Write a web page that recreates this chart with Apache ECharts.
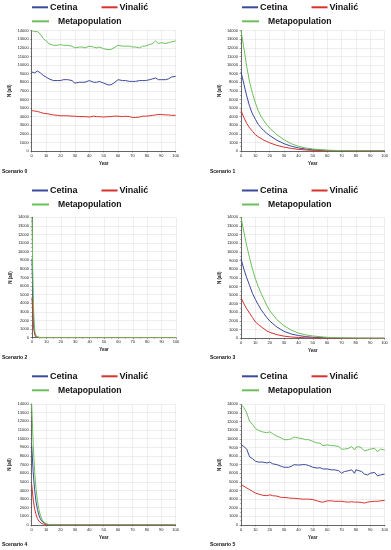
<!DOCTYPE html>
<html>
<head>
<meta charset="utf-8">
<script src="https://cdn.jsdelivr.net/npm/echarts@6/dist/echarts.min.js"></script>
<style>
html,body{margin:0;padding:0;background:#fff;}
#c{width:391px;height:550px;}
</style>
</head>
<body>
<div id="c"></div>
<script>
// ---- Data ----
var seriesNames = ['Cetina', 'Vinalić', 'Metapopulation'];
var scenarioLabels = ['Scenario 0', 'Scenario 1', 'Scenario 2', 'Scenario 3', 'Scenario 4', 'Scenario 5'];
var yearTicks = [0,10,20,30,40,50,60,70,80,90,100];
var nTicks = [0,1000,2000,3000,4000,5000,6000,7000,8000,9000,10000,11000,12000,13000,14000];

var yearsNoisy = [0,2,4,6,8,10,12,15,18,20,22,25,28,30,33,35,37,40,43,45,47,50,53,55,57,60,63,65,68,70,72,75,77,79,80,82,84,86,88,90,93,95,97,100];
var yearsDecay = [0,2,4,6,8,10,12,14,16,18,20,25,30,35,40,45,50,60,70,80,90,100];
var yearsFast2 = [0,0.5,1,1.5,2,3,4,6,10,100];
var yearsFast4 = [0,1,2,3,4,5,6,7,8,10,12,15,100];

// Scenario 0
var cetina0 = [9200,9100,9300,9100,8800,8600,8400,8200,8200,8200,8300,8300,8200,7900,8000,8000,8000,8200,8000,8000,8100,7900,7700,7700,7900,8300,8200,8200,8100,8100,8100,8200,8200,8200,8300,8300,8400,8500,8300,8300,8300,8400,8600,8700];
var vinalic0 = [4700,4650,4600,4500,4400,4350,4300,4200,4150,4100,4100,4100,4050,4050,4000,4000,4000,3950,4050,4000,4000,3950,4000,4000,4050,4050,4000,4050,4000,3900,3900,3950,4050,4050,4100,4100,4150,4200,4250,4250,4200,4200,4150,4150];
var meta0 = [14000,13900,13900,13600,13100,12800,12500,12300,12300,12400,12300,12300,12200,12000,12100,12100,12000,12200,12100,12000,12100,11900,11800,11800,12000,12300,12200,12200,12200,12100,12100,12000,12200,12200,12300,12400,12500,12800,12500,12600,12500,12600,12700,12800];

// Scenario 1
var cetina1 = [9200,7800,6400,5200,4300,3700,3100,2700,2350,2050,1800,1250,850,560,360,230,150,60,20,5,0,0];
var vinalic1 = [4700,3900,3200,2700,2300,1900,1650,1450,1250,1100,950,650,450,300,190,120,80,30,10,0,0,0];
var meta1 = [14000,12000,9800,8000,6700,5600,4700,4000,3500,3050,2650,1900,1300,850,550,350,230,100,40,15,5,0];

// Scenario 2
var cetina2 = [9200,5000,2300,1000,400,80,10,0,0,0];
var vinalic2 = [4700,3000,1600,700,300,60,10,0,0,0];
var meta2 = [13900,8000,3900,1700,700,140,20,0,0,0];

// Scenario 3
var cetina3 = [9200,8000,7000,6100,5200,4500,3900,3300,2850,2400,2000,1300,800,500,320,200,120,50,15,5,0,0];
var vinalic3 = [4700,4000,3400,2900,2400,1900,1600,1350,1100,850,700,420,250,150,100,60,35,15,5,0,0,0];
var meta3 = [14000,12300,10700,9300,8000,6900,6000,5200,4500,3800,3200,2150,1450,950,600,400,270,110,40,15,5,0];

// Scenario 4
var cetina4 = [9200,6200,4100,2700,1800,1150,720,450,270,100,30,0,0];
var vinalic4 = [4700,3000,1900,1200,750,450,280,170,100,40,10,0,0];
var meta4 = [14000,9500,6300,4200,2800,1800,1150,700,420,150,50,0,0];

// Scenario 5
var cetina5 = [9300,9100,8800,7900,7700,7400,7300,7300,7200,7300,7100,7000,6800,6700,6700,6800,7000,6950,7000,7000,6900,6700,6600,6650,6500,6500,6400,6400,6300,6000,6200,6300,6400,6000,6400,6300,6200,5900,5800,6000,6100,5700,5800,5900];
var vinalic5 = [4700,4500,4300,4100,3900,3700,3600,3450,3400,3500,3400,3350,3200,3200,3150,3100,3100,3050,3000,3000,3000,2950,2800,2700,2650,2800,2800,2750,2750,2750,2700,2650,2700,2650,2600,2650,2600,2550,2650,2700,2750,2750,2800,2850];
var meta5 = [14000,13600,13000,12000,11700,11200,11000,10800,10700,10800,10600,10300,10100,9900,9900,10000,10200,10100,10000,9900,9900,9700,9500,9500,9200,9300,9200,9200,9100,8800,8800,8900,9100,8700,9000,9100,8900,8600,8700,8800,8900,8500,8800,8700];

var scenarios = [
  {years: yearsNoisy, vals: [cetina0, vinalic0, meta0]},
  {years: yearsDecay, vals: [cetina1, vinalic1, meta1]},
  {years: yearsFast2, vals: [cetina2, vinalic2, meta2]},
  {years: yearsDecay, vals: [cetina3, vinalic3, meta3]},
  {years: yearsFast4, vals: [cetina4, vinalic4, meta4]},
  {years: yearsNoisy, vals: [cetina5, vinalic5, meta5]}
];

// ---- Layout / style ----
var colors = ['#3b4a9c', '#d8312e', '#6cbf5c'];
var FONT = '"Liberation Sans", Arial, sans-serif';
var panels = [
  {left: 31.7, top: 30.7, width: 144, height: 120.3, legTop: 2.8, legLeft: 32, scX: 2, scY: 169.5},
  {left: 241, top: 30.7, width: 144, height: 120.3, legTop: 2.8, legLeft: 242, scX: 210, scY: 169.5},
  {left: 32, top: 217.3, width: 144, height: 120.4, legTop: 186, legLeft: 32, scX: 2, scY: 355.5},
  {left: 241, top: 217.3, width: 143.5, height: 121, legTop: 186, legLeft: 242, scX: 210, scY: 355.5},
  {left: 31.7, top: 404, width: 144, height: 121, legTop: 371.8, legLeft: 32, scX: 2, scY: 542},
  {left: 241, top: 404.3, width: 144, height: 120.7, legTop: 371.8, legLeft: 242, scX: 210, scY: 542}
];

function plainNum(v) { return String(v); }

var grid = [], xAxis = [], yAxis = [], series = [], legend = [], title = [];
panels.forEach(function (p, i) {
  grid.push({left: p.left, top: p.top, width: p.width, height: p.height, containLabel: false});
  xAxis.push({
    type: 'value', gridIndex: i, min: yearTicks[0], max: yearTicks[yearTicks.length - 1], interval: 10,
    name: 'Year', nameLocation: 'middle', nameGap: 10,
    nameTextStyle: {fontSize: 4.5, fontWeight: 'bold', color: '#222', fontFamily: FONT},
    axisLine: {onZero: false, lineStyle: {color: '#444', width: 0.8}},
    axisTick: {show: true, length: 1.5, lineStyle: {color: '#444', width: 0.5}},
    minorTick: {show: true, splitNumber: 2, length: 1, lineStyle: {color: '#666', width: 0.5}},
    axisLabel: {fontSize: 4, color: '#222', margin: 2.5, fontFamily: FONT, formatter: plainNum},
    splitLine: {show: true, lineStyle: {color: '#e2e2e2', width: 0.6}}
  });
  yAxis.push({
    type: 'value', gridIndex: i, min: nTicks[0], max: nTicks[nTicks.length - 1], interval: 1000,
    name: 'N (all)', nameLocation: 'middle', nameGap: 19, nameRotate: 90,
    nameTextStyle: {fontSize: 4.5, fontWeight: 'bold', color: '#222', fontFamily: FONT},
    axisLine: {show: true, lineStyle: {color: '#444', width: 0.8}},
    axisTick: {show: true, length: 1.5, lineStyle: {color: '#444', width: 0.5}},
    minorTick: {show: true, splitNumber: 2, length: 1, lineStyle: {color: '#666', width: 0.5}},
    axisLabel: {fontSize: 4, color: '#222', margin: 3, fontFamily: FONT, formatter: plainNum},
    splitLine: {show: true, lineStyle: {color: '#e2e2e2', width: 0.6}}
  });
  var sc = scenarios[i];
  sc.vals.forEach(function (vals, k) {
    series.push({
      type: 'line', name: seriesNames[k], xAxisIndex: i, yAxisIndex: i,
      data: sc.years.map(function (y, j) { return [y, vals[j]]; }),
      showSymbol: false, symbol: 'none', smooth: false,
      color: colors[k],
      lineStyle: {color: colors[k], width: 1},
      z: k === 2 ? 3 : 2,
      animation: false
    });
  });
  legend.push({
    left: p.legLeft, top: p.legTop, orient: 'horizontal', padding: 0,
    data: [seriesNames[0], seriesNames[1]],
    icon: 'rect', itemWidth: 16, itemHeight: 2, itemGap: 24,
    textStyle: {fontSize: 9, fontWeight: 'bold', color: '#111', fontFamily: FONT, padding: [0, 0, 0, -3]},
    selectedMode: false
  });
  legend.push({
    left: p.legLeft, top: p.legTop + 14, orient: 'horizontal', padding: 0,
    data: [seriesNames[2]],
    icon: 'rect', itemWidth: 17, itemHeight: 2,
    textStyle: {fontSize: 8.6, fontWeight: 'bold', color: '#111', fontFamily: FONT, padding: [0, 0, 0, 4]},
    selectedMode: false
  });
  title.push({
    text: scenarioLabels[i], left: p.scX, top: p.scY, padding: 0,
    textStyle: {fontSize: 5, fontWeight: 'bold', color: '#111', fontFamily: FONT}
  });
});

var chart = echarts.init(document.getElementById('c'), null, {renderer: 'canvas'});
chart.setOption({
  animation: false,
  backgroundColor: '#fff',
  title: title,
  legend: legend,
  grid: grid,
  xAxis: xAxis,
  yAxis: yAxis,
  series: series
});
</script>
</body>
</html>
